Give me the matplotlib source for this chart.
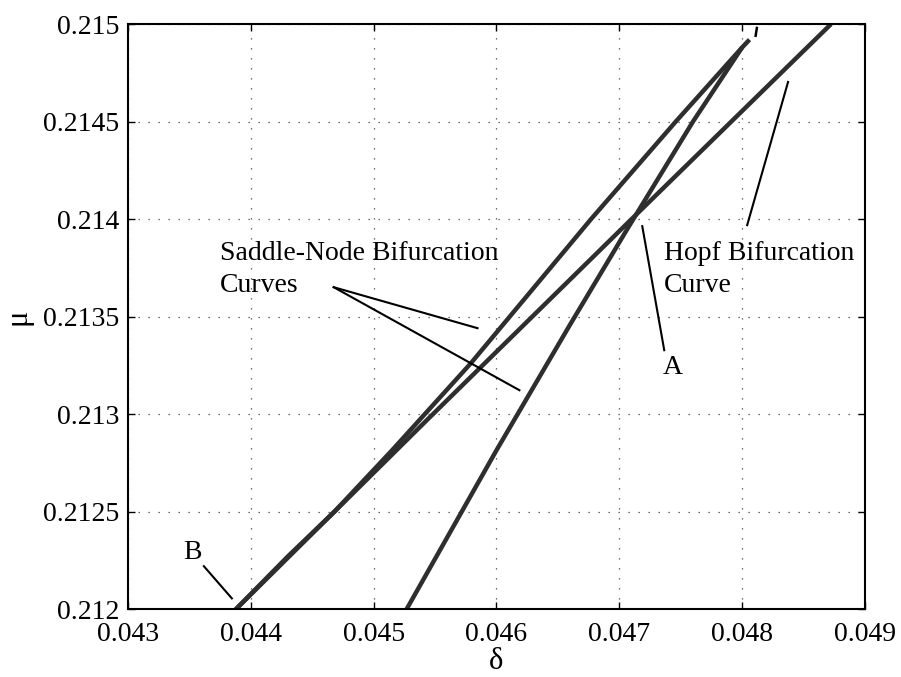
import numpy as np
import matplotlib.pyplot as plt

plt.rcParams['font.family'] = ['Liberation Serif', 'DejaVu Serif']

# curves (delta, mu)
sn_upper_x = [0.043878, 0.04430, 0.04468, 0.04515, 0.04579, 0.04677, 0.04746, 0.04800, 0.04806]
sn_upper_y = [0.21200, 0.21227, 0.21250, 0.212815, 0.21326, 0.21400, 0.21450, 0.21488, 0.21492]

sn_lower_x = [0.045268, 0.04600, 0.04660, 0.04706, 0.04760, 0.04800]
sn_lower_y = [0.21200, 0.212815, 0.21346, 0.213944, 0.21450, 0.21488]

hopf_x = [0.043878, 0.04545, 0.04710, 0.048724]
hopf_y = [0.21200, 0.21298, 0.21400, 0.21500]

tip_x = [0.04811, 0.04812]
tip_y = [0.21494, 0.21498]

xticks = [0.043, 0.044, 0.045, 0.046, 0.047, 0.048, 0.049]
yticks = [0.212, 0.2125, 0.213, 0.2135, 0.214, 0.2145, 0.215]

fig = plt.figure(figsize=(9.01, 6.77), dpi=100)
ax = fig.add_axes([0.142, 0.100, 0.818, 0.8645])

curve_col = '#2e2e2e'
ax.plot(sn_upper_x, sn_upper_y, color=curve_col, lw=3.2, solid_capstyle='butt')
ax.plot(sn_lower_x, sn_lower_y, color=curve_col, lw=3.2, solid_capstyle='butt')
ax.plot(hopf_x, hopf_y, color=curve_col, lw=3.2, solid_capstyle='butt')
ax.plot(tip_x, tip_y, color='black', lw=1.8)

ax.set_xlim(0.043, 0.049)
ax.set_ylim(0.212, 0.215)
ax.set_xticks(xticks)
ax.set_yticks(yticks)
ax.set_xticklabels([f'{v:g}' for v in xticks])
ax.set_yticklabels([f'{v:g}' for v in yticks])
ax.tick_params(direction='in', length=5, width=1, top=True, right=True,
               labelsize=20)
ax.tick_params(axis='x', pad=9)
ax.tick_params(axis='y', pad=6)
for s in ax.spines.values():
    s.set_linewidth(1.5)
ax.grid(True, linestyle=(0, (1, 7)), color='#444444', lw=0.9)

ax.set_xlabel('δ', fontsize=22, labelpad=0)
ax.set_ylabel('μ', fontsize=22, labelpad=8)

fs = 20
ax.text(0.043748, 0.21379, 'Saddle-Node Bifurcation', fontsize=fs, va='baseline')
ax.text(0.043748, 0.213626, 'Curves', fontsize=fs, va='baseline')
ax.text(0.047366, 0.21379, 'Hopf Bifurcation', fontsize=fs, va='baseline')
ax.text(0.047366, 0.213626, 'Curve', fontsize=fs, va='baseline')
ax.text(0.04735, 0.213205, 'A', fontsize=fs, va='baseline')
ax.text(0.043447, 0.212256, 'B', fontsize=fs, va='baseline')

# pointer lines
ax.plot([0.044675, 0.045846], [0.213651, 0.213441], color='black', lw=1.5)
ax.plot([0.044675, 0.046187], [0.213651, 0.213123], color='black', lw=1.5)
ax.plot([0.048374, 0.048041], [0.214703, 0.213969], color='black', lw=1.5)
ax.plot([0.047187, 0.047366], [0.213964, 0.213328], color='black', lw=1.5)
ax.plot([0.043618, 0.043846], [0.212221, 0.212056], color='black', lw=1.5)

fig.savefig('out.png', dpi=100)
